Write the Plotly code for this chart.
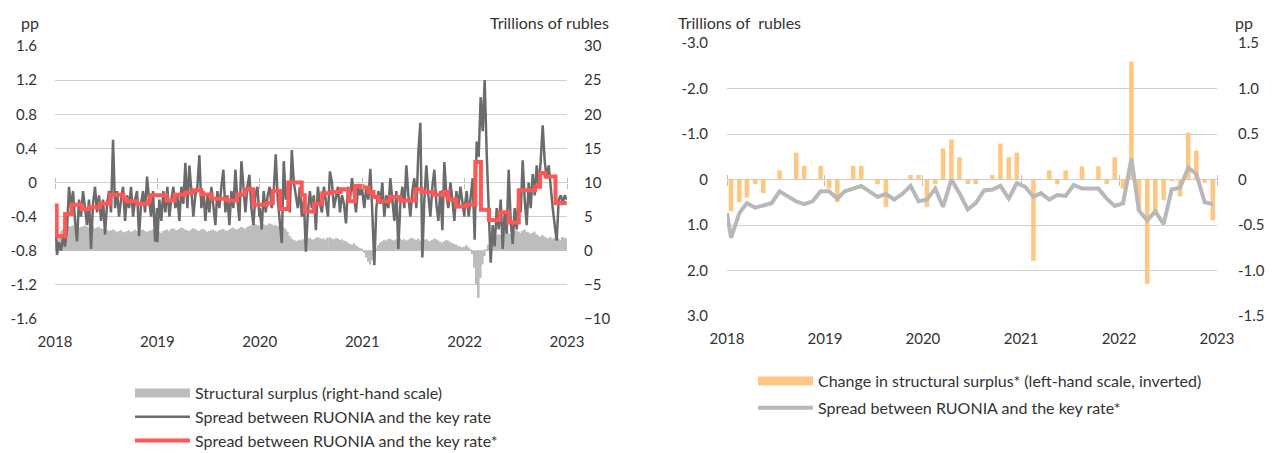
import pandas as pd
import plotly.graph_objects as go

W, H = 1277, 453
FONT = "Lato"
TXT = "#333333"

# ---------------- LEFT CHART DATA ----------------
# Spread between RUONIA and the key rate (pp), ~weekly readings per year
spread_2018 = [-0.35,-0.85,-0.70,-0.80,-0.65,-0.75,-0.55,-0.05,-0.30,-0.10,-0.45,-0.69,-0.20,-0.40,-0.10,-0.30,-0.50,-0.20,-0.78,-0.25,-0.05,-0.35,-0.15,-0.45,-0.20,-0.61,-0.25,-0.10,-0.35,0.50,-0.30,-0.10,-0.40,-0.20,-0.05,-0.45,-0.15,-0.30,-0.05,-0.40,-0.20,-0.10,-0.63,-0.25,-0.10,-0.35,0.07,-0.20,-0.40,-0.10,-0.69,-0.30]
spread_2019 = [-0.70,-0.20,-0.45,-0.10,-0.35,-0.05,-0.40,-0.20,-0.05,-0.30,-0.15,-0.45,-0.05,-0.25,0.23,-0.30,0.20,-0.10,-0.40,-0.15,-0.05,0.32,-0.30,-0.10,-0.45,-0.15,-0.35,-0.05,-0.25,-0.50,-0.10,-0.30,-0.05,0.15,-0.35,-0.15,-0.50,-0.10,-0.30,0.15,-0.20,-0.45,0.25,-0.10,-0.35,-0.05,0.09,-0.30,-0.50,-0.15,-0.05,-0.40]
spread_2020 = [-0.30,-0.55,-0.10,-0.35,-0.15,-0.05,-0.30,-0.10,0.33,-0.20,-0.45,-0.71,0.25,-0.20,-0.05,-0.35,0.38,0.00,-0.15,-0.30,-0.05,-0.40,-0.20,-0.81,-0.35,-0.10,-0.30,-0.15,-0.56,-0.05,-0.25,-0.35,-0.05,-0.20,-0.40,0.13,0.00,-0.30,-0.15,-0.05,-0.35,-0.15,-0.25,-0.48,-0.05,-0.20,0.05,-0.15,-0.35,-0.05,-0.15,-0.05]
spread_2021 = [-0.10,-0.30,-0.05,-0.20,0.16,-0.35,-0.97,-0.30,-0.10,-0.25,0.00,-0.40,-0.15,-0.30,0.05,-0.20,-0.45,-0.10,-0.78,-0.25,-0.05,-0.30,0.20,-0.15,-0.40,-0.10,0.05,-0.30,0.36,0.70,-0.88,-0.20,0.20,-0.15,-0.40,-0.05,0.15,-0.25,-0.45,-0.10,-0.56,0.24,-0.15,-0.30,0.00,-0.20,-0.45,-0.10,-0.30,-0.05,-0.25,-0.40]
spread_2022 = [-0.30,-0.10,-0.40,-0.15,0.05,-0.67,0.48,0.30,1.00,0.60,1.20,0.35,-0.40,-0.94,-0.50,-0.75,-0.30,-0.55,-0.20,-0.78,-0.35,-0.60,0.15,-0.45,-0.72,-0.30,-0.55,-0.10,-0.35,0.26,-0.20,-0.50,0.00,-0.30,0.10,-0.15,0.20,-0.05,0.25,0.67,0.25,0.05,0.20,-0.10,-0.30,-0.50,-0.68,-0.20,-0.15,-0.25,-0.15,-0.20]

# Structural surplus (trillions of rubles), ~weekly readings per year
surplus_2018 = [0.8,1.6,2.4,2.9,3.2,3.4,3.5,3.6,3.6,3.7,3.5,3.6,3.4,3.5,3.6,3.7,3.5,3.4,3.5,3.6,3.3,3.4,3.5,3.3,3.2,3.0,3.1,2.9,3.0,3.1,3.0,2.8,2.9,3.0,2.8,2.7,2.9,3.0,2.8,2.9,3.1,2.9,2.8,3.0,3.1,2.9,2.8,2.9,3.0,3.1,2.8,2.9]
surplus_2019 = [2.7,2.8,2.6,2.9,3.0,3.1,2.9,3.2,3.3,3.1,3.0,3.2,3.4,3.3,3.1,3.0,2.9,3.1,3.3,3.2,3.0,2.9,3.1,3.2,3.0,2.8,2.9,3.0,3.1,2.9,2.8,3.0,3.1,3.2,3.0,2.9,3.1,3.3,3.4,3.2,3.1,3.3,3.5,3.4,3.2,3.5,3.6,3.7,3.8,3.9,3.8,3.7]
surplus_2020 = [3.6,3.8,3.9,3.7,3.8,4.0,3.9,3.7,3.8,3.6,3.7,3.5,3.4,3.2,2.8,2.2,1.8,1.6,1.5,1.4,1.6,1.5,1.7,1.6,1.8,1.9,1.7,1.6,1.8,2.0,1.9,1.7,1.8,1.6,1.9,2.0,1.8,1.7,1.9,1.8,1.6,1.7,1.5,1.4,1.2,1.0,0.9,1.1,0.8,0.6,0.4,0.3]
surplus_2021 = [0.2,-0.3,-1.0,-1.6,-2.0,-1.4,-0.5,0.3,0.8,1.2,1.4,1.6,1.5,1.7,1.8,1.6,1.5,1.7,1.9,1.8,1.6,1.7,1.5,1.6,1.8,1.9,1.7,1.6,1.8,1.5,1.3,1.6,1.7,1.5,1.4,1.6,1.8,1.7,1.5,1.3,1.2,1.4,1.6,1.5,1.3,1.1,1.0,0.9,0.7,0.6,0.5,0.4]
surplus_2022 = [0.6,0.8,0.5,0.2,-0.5,-2.5,-5.0,-6.9,-4.0,-2.0,-0.8,0.2,0.9,1.4,1.8,2.0,2.2,2.4,2.3,2.1,2.5,2.8,2.6,2.4,2.7,2.9,3.0,2.8,2.6,2.9,3.1,2.8,2.7,2.5,2.6,2.8,2.4,2.2,2.0,2.3,2.1,1.9,1.8,2.0,1.7,1.9,2.1,1.8,1.6,2.0,1.9,1.8]

# Spread* (averaged over reserve maintenance periods): period start dates and values (pp)
step_dates = ["2018-01-01","2018-01-07","2018-02-06","2018-03-01","2018-04-05","2018-05-05","2018-06-10","2018-07-16","2018-09-02","2018-09-13","2018-10-20","2018-11-28","2018-12-06",
              "2019-02-03","2019-03-04","2019-04-10","2019-05-09","2019-06-07","2019-07-13","2019-09-06","2019-10-12","2019-11-10","2019-12-09",
              "2020-01-26","2020-02-17","2020-03-14","2020-04-12","2020-05-30","2020-06-10","2020-07-13","2020-08-11","2020-09-13","2020-10-16","2020-11-14","2020-12-06",
              "2021-01-01","2021-01-23","2021-02-10","2021-02-28","2021-04-09","2021-05-16","2021-07-09","2021-07-31","2021-09-13","2021-10-16","2021-11-03","2021-12-02",
              "2022-01-08","2022-02-08","2022-02-28","2022-03-29","2022-05-05","2022-06-07","2022-07-13","2022-09-09","2022-09-27","2022-10-16","2022-11-21","2022-12-31"]
step_values = [-0.27,-0.63,-0.37,-0.26,-0.31,-0.29,-0.25,-0.145,-0.19,-0.22,-0.25,-0.22,-0.15,
               -0.21,-0.145,-0.12,-0.09,-0.14,-0.19,-0.21,-0.145,-0.08,-0.26,
               -0.24,-0.10,-0.31,0.00,-0.15,-0.34,-0.25,-0.125,-0.11,-0.08,-0.22,-0.04,
               -0.06,-0.11,-0.17,-0.22,-0.17,-0.21,-0.08,-0.11,-0.145,-0.11,-0.20,-0.28,
               -0.26,0.24,-0.32,-0.44,-0.35,-0.47,-0.09,-0.05,0.11,0.07,-0.24,-0.24]

# ---------------- RIGHT CHART DATA ----------------
# Monthly change in structural surplus (trillions of rubles), Jan 2018 .. Dec 2022
chg_2018 = [0.70,0.50,0.40,0.10,0.30,0.00,-0.20,0.00,-0.59,-0.30,0.00,-0.30]
chg_2019 = [0.20,0.50,0.00,-0.30,-0.30,0.00,0.10,0.60,0.00,0.00,-0.10,-0.10]
chg_2020 = [0.60,0.10,-0.68,-0.88,-0.49,0.10,0.10,0.00,-0.10,-0.79,-0.49,-0.59]
chg_2021 = [0.00,1.79,0.00,-0.20,0.10,-0.20,0.00,-0.29,0.00,-0.29,0.10,-0.49]
chg_2022 = [0.20,-2.59,0.70,2.29,0.70,0.45,0.03,0.37,-1.03,-0.64,0.07,0.90]
# Monthly spread* (pp); first value is the opening reading at 1 Jan 2018
spread_m_start = -0.37
spread_m_2018 = [-0.64,-0.37,-0.26,-0.31,-0.29,-0.26,-0.13,-0.18,-0.24,-0.27,-0.24,-0.13]
spread_m_2019 = [-0.13,-0.21,-0.13,-0.10,-0.07,-0.13,-0.19,-0.16,-0.22,-0.16,-0.07,-0.24]
spread_m_2020 = [-0.22,-0.10,-0.30,0.00,-0.15,-0.33,-0.26,-0.12,-0.11,-0.07,-0.21,-0.04]
spread_m_2021 = [-0.08,-0.19,-0.15,-0.22,-0.17,-0.18,-0.06,-0.10,-0.10,-0.10,-0.21,-0.29]
spread_m_2022 = [-0.26,0.23,-0.34,-0.45,-0.35,-0.49,-0.11,-0.09,0.13,0.06,-0.25,-0.27]

years = [2018, 2019, 2020, 2021, 2022]
year_ticks = ["2018-01-01", "2019-01-01", "2020-01-01", "2021-01-01", "2022-01-01", "2023-01-01"]
year_labels = ["2018", "2019", "2020", "2021", "2022", "2023"]

# ---------------- BUILD SERIES ----------------
def year_dates(y, vals):
    return list(pd.date_range(f"{y}-01-01", f"{y}-12-31", periods=len(vals)))

spread_all = [spread_2018, spread_2019, spread_2020, spread_2021, spread_2022]
surplus_all = [surplus_2018, surplus_2019, surplus_2020, surplus_2021, surplus_2022]
sp_x, sp_y, su_x, su_y = [], [], [], []
for y, a, b in zip(years, spread_all, surplus_all):
    sp_x += year_dates(y, a); sp_y += a
    su_x += year_dates(y, b); su_y += b

month_x = list(pd.date_range("2018-01-01", periods=60, freq="MS") + pd.Timedelta(days=15))
chg = chg_2018 + chg_2019 + chg_2020 + chg_2021 + chg_2022
spm_x = [pd.Timestamp("2018-01-01")] + month_x
spm_y = [spread_m_start] + spread_m_2018 + spread_m_2019 + spread_m_2020 + spread_m_2021 + spread_m_2022

DAY_MS = 24 * 3600 * 1000

# ---------------- COLOURS ----------------
C_SURPLUS = "#bdbdbd"
C_DARK = "#6b6b6b"
C_RED = "#ff5656"
C_ORANGE = "#ffc882"
C_GREYLINE = "#b8b8b8"
C_GRID = "#cfcfcf"

fig = go.Figure()

# Left chart
fig.add_trace(go.Bar(x=su_x, y=su_y, width=6.6 * DAY_MS, marker=dict(color=C_SURPLUS, line=dict(width=0)),
                     xaxis="x", yaxis="y", showlegend=False, hoverinfo="skip"))
fig.add_trace(go.Scatter(x=sp_x, y=sp_y, mode="lines", line=dict(color=C_DARK, width=2.5),
                         xaxis="x", yaxis="y2", showlegend=False))
fig.add_trace(go.Scatter(x=step_dates, y=step_values, mode="lines", line=dict(color=C_RED, width=4, shape="hv"),
                         xaxis="x", yaxis="y2", showlegend=False))
# legend entries (left)
fig.add_trace(go.Scatter(x=[None], y=[None], mode="lines", line=dict(color=C_SURPLUS, width=9),
                         name="Structural surplus (right-hand scale)", legend="legend", legendgroup="a", xaxis="x", yaxis="y"))
fig.add_trace(go.Scatter(x=[None], y=[None], mode="lines", line=dict(color=C_DARK, width=2.5),
                         name="Spread between RUONIA and the key rate", legend="legend", legendgroup="b", xaxis="x", yaxis="y"))
fig.add_trace(go.Scatter(x=[None], y=[None], mode="lines", line=dict(color=C_RED, width=4),
                         name="Spread between RUONIA and the key rate*", legend="legend", legendgroup="c", xaxis="x", yaxis="y"))

# Right chart
fig.add_trace(go.Bar(x=month_x, y=chg, marker=dict(color=C_ORANGE, line=dict(width=0)), width=17 * DAY_MS,
                     xaxis="x2", yaxis="y3", showlegend=False, hoverinfo="skip"))
fig.add_trace(go.Scatter(x=spm_x, y=spm_y, mode="lines", line=dict(color=C_GREYLINE, width=4),
                         xaxis="x2", yaxis="y4", showlegend=False))
fig.add_trace(go.Scatter(x=[None], y=[None], mode="lines", line=dict(color=C_ORANGE, width=9),
                         name="Change in structural surplus* (left-hand scale, inverted)", legend="legend2", legendgroup="d", xaxis="x2", yaxis="y3"))
fig.add_trace(go.Scatter(x=[None], y=[None], mode="lines", line=dict(color=C_GREYLINE, width=4),
                         name="Spread between RUONIA and the key rate*", legend="legend2", legendgroup="e", xaxis="x2", yaxis="y3"))
# tick-mark axes on the zero lines
fig.add_trace(go.Scatter(x=[None], y=[None], xaxis="x3", yaxis="y2", showlegend=False))
fig.add_trace(go.Scatter(x=[None], y=[None], xaxis="x5", yaxis="y2", showlegend=False))
fig.add_trace(go.Scatter(x=[None], y=[None], xaxis="x4", yaxis="y4", showlegend=False))
fig.add_trace(go.Scatter(x=[None], y=[None], xaxis="x6", yaxis="y4", showlegend=False))

tf = dict(family=FONT, size=15, color=TXT)
ttf = dict(family=FONT, size=16, color=TXT)
L0, L1 = 55 / W, 567 / W
R0, R1 = 727 / W, 1217 / W
LY = [1 - 319 / H, 1 - 46 / H]
RY = [1 - 316 / H, 1 - 43 / H]
xr = ["2018-01-01", "2023-01-01"]

common_x = dict(type="date", range=xr, tickvals=year_ticks, ticktext=year_labels, showgrid=False,
                showline=False, zeroline=False, ticks="", tickfont=tf, ticklabelstandoff=12,
                fixedrange=True, automargin=False)
tick_x = dict(type="date", range=xr, tickvals=year_ticks, showgrid=False, showline=False, zeroline=False,
              showticklabels=False, ticks="outside", ticklen=5, tickcolor="#bdbdbd", tickwidth=1,
              anchor="free", automargin=False)
ycommon = dict(zeroline=False, showline=False, ticks="", tickfont=tf, fixedrange=True, automargin=False)

fig.update_layout(
    width=W, height=H, margin=dict(l=0, r=0, t=0, b=0, autoexpand=False),
    paper_bgcolor="white", plot_bgcolor="white", bargap=0.1,
    font=dict(family=FONT, color=TXT),
    xaxis=dict(domain=[L0, L1], anchor="y", **common_x),
    xaxis2=dict(domain=[R0, R1], anchor="y3", **common_x),
    xaxis3=dict(overlaying="x", position=1 - 182.6 / H, side="bottom", **tick_x),
    xaxis5=dict(overlaying="x", position=1 - 182.6 / H, side="top", **tick_x),
    xaxis4=dict(overlaying="x2", position=1 - 180 / H, side="bottom", **tick_x),
    xaxis6=dict(overlaying="x2", position=1 - 180 / H, side="top", **tick_x),
    yaxis=dict(domain=LY, anchor="x", side="right", range=[-10, 30], tickvals=[-10, -5, 0, 5, 10, 15, 20, 25, 30],
               showgrid=True, gridcolor=C_GRID, gridwidth=1, ticklabelstandoff=16, **ycommon),
    yaxis2=dict(overlaying="y", anchor="x", side="left", range=[-1.6, 1.6],
                tickvals=[-1.6, -1.2, -0.8, -0.4, 0, 0.4, 0.8, 1.2, 1.6],
                ticktext=["-1.6", "-1.2", "-0.8", "-0.4", "0", "0.4", "0.8", "1.2", "1.6"],
                showgrid=False, ticklabelstandoff=17, **ycommon),
    yaxis3=dict(domain=RY, anchor="x2", side="left", range=[3, -3], tickvals=[-3, -2, -1, 0, 1, 2, 3],
                ticktext=["-3.0", "-2.0", "-1.0", "0", "1.0", "2.0", "3.0"],
                showgrid=True, gridcolor=C_GRID, gridwidth=1, ticklabelstandoff=18, **ycommon),
    yaxis4=dict(overlaying="y3", anchor="x2", side="right", range=[-1.5, 1.5],
                tickvals=[-1.5, -1.0, -0.5, 0, 0.5, 1.0, 1.5],
                ticktext=["-1.5", "-1.0", "-0.5", "0", "0.5", "1.0", "1.5"],
                showgrid=False, ticklabelstandoff=20, **ycommon),
    legend=dict(x=130 / W, y=1 - 376 / H, xanchor="left", yanchor="top", font=dict(family=FONT, size=16, color=TXT),
                bgcolor="rgba(0,0,0,0)", itemwidth=55, tracegroupgap=0, traceorder="grouped"),
    legend2=dict(x=753 / W, y=1 - 364 / H, xanchor="left", yanchor="top", font=dict(family=FONT, size=16, color=TXT),
                 bgcolor="rgba(0,0,0,0)", itemwidth=55, tracegroupgap=3, traceorder="grouped"),
    annotations=[
        dict(text="pp", x=19 / W, y=1 - 22 / H, xref="paper", yref="paper", xanchor="left", yanchor="middle", showarrow=False, font=ttf),
        dict(text="Trillions of rubles", x=611 / W, y=1 - 22 / H, xref="paper", yref="paper", xanchor="right", yanchor="middle", showarrow=False, font=ttf),
        dict(text="Trillions of&nbsp; rubles", x=676 / W, y=1 - 22 / H, xref="paper", yref="paper", xanchor="left", yanchor="middle", showarrow=False, font=ttf),
        dict(text="pp", x=1233 / W, y=1 - 22 / H, xref="paper", yref="paper", xanchor="left", yanchor="middle", showarrow=False, font=ttf),
    ],
)

fig.write_html("out.html", config={"displayModeBar": False},
               post_script="document.body.style.margin='0';document.body.style.overflow='hidden';")
